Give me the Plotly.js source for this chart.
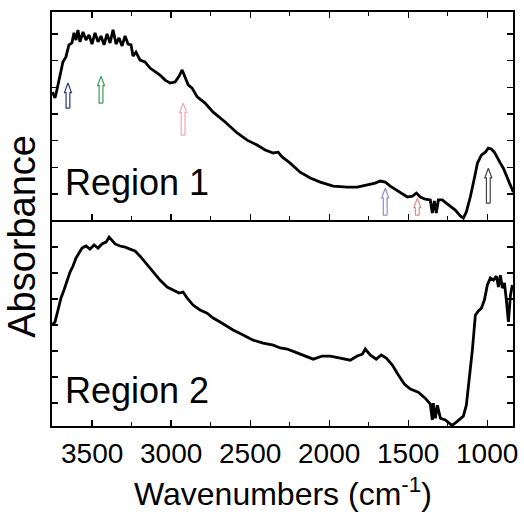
<!DOCTYPE html>
<html>
<head>
<meta charset="utf-8">
<script src="https://cdn.plot.ly/plotly-3.0.1.min.js"></script>
<style>
html,body{margin:0;padding:0;background:#fff;}
#chart{width:524px;height:517px;}
</style>
</head>
<body>
<div id="chart"></div>
<script>
// Region 1 spectrum (wavenumber, absorbance in arbitrary units)
const region1Wn = [3750,3734,3722,3703,3684,3665,3646,3627,3614,3601,3589,3576,3557,3538,3519,3500,3481,3462,3443,3424,3405,3386,3367,3348,3329,3310,3291,3272,3253,3241,3222,3196,3165,3133,3101,3070,3038,3006,2975,2949,2930,2911,2892,2867,2835,2785,2734,2658,2582,2519,2456,2405,2354,2323,2298,2247,2184,2120,2057,1975,1886,1823,1760,1709,1677,1646,1614,1576,1538,1506,1475,1449,1424,1393,1361,1348,1335,1323,1310,1285,1260,1234,1203,1171,1152,1133,1108,1082,1063,1038,1013,994,975,956,937,918,899,880,861,842,836];
const region1Abs = [4.82,4.60,4.90,5.46,5.95,6.14,6.59,6.66,7.04,6.77,7.15,6.70,7.07,6.77,6.96,6.62,7.04,6.70,6.92,6.59,7.00,6.66,7.15,6.62,6.85,6.55,6.92,6.62,6.59,6.17,6.32,6.02,5.95,5.72,5.57,5.46,5.27,5.16,5.20,5.42,5.65,5.35,5.09,4.97,4.64,4.41,4.07,3.70,3.29,3.02,2.84,2.65,2.54,2.57,2.39,2.16,1.82,1.60,1.45,1.30,1.26,1.26,1.34,1.41,1.49,1.45,1.30,1.15,1.00,0.89,0.92,1.04,0.89,0.81,0.78,0.29,0.74,0.29,0.78,0.78,0.66,0.55,0.40,0.18,0.10,0.33,0.89,1.60,2.16,2.46,2.57,2.72,2.69,2.57,2.39,2.16,1.97,1.71,1.45,1.15,1.07];

// Region 2 spectrum
const region2Wn = [3753,3734,3715,3696,3677,3658,3639,3620,3601,3582,3563,3538,3513,3487,3462,3437,3411,3392,3373,3354,3323,3291,3260,3228,3196,3165,3133,3101,3070,3025,2987,2949,2924,2899,2861,2817,2772,2734,2690,2646,2608,2544,2481,2418,2354,2310,2266,2215,2152,2101,2044,1994,1930,1867,1823,1791,1772,1741,1703,1671,1639,1601,1563,1525,1487,1437,1393,1361,1348,1342,1329,1316,1297,1266,1234,1221,1196,1171,1152,1133,1114,1095,1076,1057,1038,1019,1000,981,962,943,930,918,905,892,880,867,854,842];
const region2Abs = [4.00,4.12,4.58,5.04,5.35,5.73,6.04,6.27,6.58,6.77,6.96,7.04,6.92,7.08,6.96,7.12,7.19,7.38,7.23,7.12,7.04,7.00,6.92,6.85,6.65,6.42,6.19,5.96,5.73,5.46,5.35,5.23,5.27,5.04,4.77,4.58,4.46,4.27,4.12,3.96,3.81,3.62,3.42,3.31,3.23,3.12,3.08,2.96,2.81,2.69,2.81,2.81,2.73,2.65,2.81,2.88,3.08,2.85,2.69,2.85,2.73,2.46,2.08,1.73,1.54,1.42,1.19,0.96,0.35,1.00,0.42,0.92,0.42,0.35,0.19,0.15,0.27,0.42,0.50,0.92,1.88,3.04,4.38,4.54,4.65,4.96,5.54,5.81,5.73,5.88,5.46,5.92,5.42,5.62,4.96,4.12,5.15,5.54];

// Band markers (arrows) in Region 1
const arrowWn = [3652,3443,2924,1646,1443,994];
const arrowBottom = [4.22,4.41,3.21,0.21,0.21,0.66];
const arrowTop = [5.16,5.42,4.41,1.22,0.85,1.97];
const arrowColors = ['#2b3a80','#3f9a5c','#f2a8b8','#8f8fca','#e38a8a','#454545'];

const xTicks = [3500,3000,2500,2000,1500,1000];
const xTickText = ['3500','3000','2500','2000','1500','1000'];

const font = 'Liberation Sans, Arial, sans-serif';

const traces = [
  {x: region1Wn, y: region1Abs, xaxis:'x2', yaxis:'y2', mode:'lines',
   line:{color:'#000', width:2.8}, hoverinfo:'skip', showlegend:false},
  {x: region2Wn, y: region2Abs, xaxis:'x', yaxis:'y', mode:'lines',
   line:{color:'#000', width:2.8}, hoverinfo:'skip', showlegend:false}
];

// hollow block arrows
const sw = 12, hw = 22, hh = 0.36;
arrowWn.forEach((w,i)=>{
  const b = arrowBottom[i], t = arrowTop[i];
  traces.push({
    x:[w-sw,w-sw,w-hw,w,w+hw,w+sw,w+sw,w-sw],
    y:[b,t-hh,t-hh,t,t-hh,t-hh,b,b],
    xaxis:'x2', yaxis:'y2', mode:'lines',
    line:{color:arrowColors[i], width:1.2}, hoverinfo:'skip', showlegend:false
  });
});

function xAxis(extra){
  return Object.assign({
    range:[3753,838], tickmode:'array', tickvals:xTicks, ticktext:xTickText,
    showticklabels:false,
    ticks:'inside', ticklen:6, tickwidth:1.3, tickcolor:'#000',
    minor:{dtick:250, tick0:3250, ticks:'inside', ticklen:4, tickwidth:1.2, tickcolor:'#000'},
    showline:true, linecolor:'#000', linewidth:1.6, showgrid:false, zeroline:false
  }, extra);
}
function yAxis(extra){
  return Object.assign({
    tickmode:'array', tickvals:[1,2,3,4,5,6,7], ticks:'inside', ticklen:6, tickwidth:1.3, tickcolor:'#000',
    showticklabels:false, showline:true, linecolor:'#000', linewidth:1.6,
    showgrid:false, zeroline:false, mirror:'ticks'
  }, extra);
}

// x tick labels placed through the x axis scale
const tickLabelAnns = xTicks.map((v,i)=>({
  text:xTickText[i], xref:'x', yref:'paper', x:v, y:-0.066,
  xanchor:'center', yanchor:'middle', showarrow:false,
  font:{family:font, size:28, color:'#000'}
}));

const layout = {
  width:524, height:517,
  margin:{l:52, r:11, t:12, b:91},
  paper_bgcolor:'#fff', plot_bgcolor:'#fff',
  showlegend:false,
  font:{family:font, color:'#000', size:28},
  xaxis: xAxis({anchor:'y', mirror:false}),
  xaxis2: xAxis({anchor:'y2', matches:'x', mirror:'ticks'}),
  yaxis: yAxis({domain:[0,0.4976], range:[0.12,8.04]}),
  yaxis2: yAxis({domain:[0.4976,1], range:[0.03,7.82]}),
  annotations: tickLabelAnns.concat([
    {text:'Region 1', xref:'paper', yref:'paper', x:0.024, y:0.535, xanchor:'left', yanchor:'bottom',
     showarrow:false, font:{family:font, size:36, color:'#000'}},
    {text:'Region 2', xref:'paper', yref:'paper', x:0.024, y:0.032, xanchor:'left', yanchor:'bottom',
     showarrow:false, font:{family:font, size:36, color:'#000'}},
    {text:'Absorbance', xref:'paper', yref:'paper', x:-0.065, y:0.457, textangle:-90,
     xanchor:'center', yanchor:'middle', showarrow:false, font:{family:font, size:38, color:'#000'}},
    {text:'Wavenumbers (cm<sup>-1</sup>)', xref:'paper', yref:'paper', x:0.5, y:-0.16,
     xanchor:'center', yanchor:'middle', showarrow:false, font:{family:font, size:32, color:'#000'}}
  ])
};

Plotly.newPlot('chart', traces, layout, {staticPlot:true, displayModeBar:false});
</script>
</body>
</html>
